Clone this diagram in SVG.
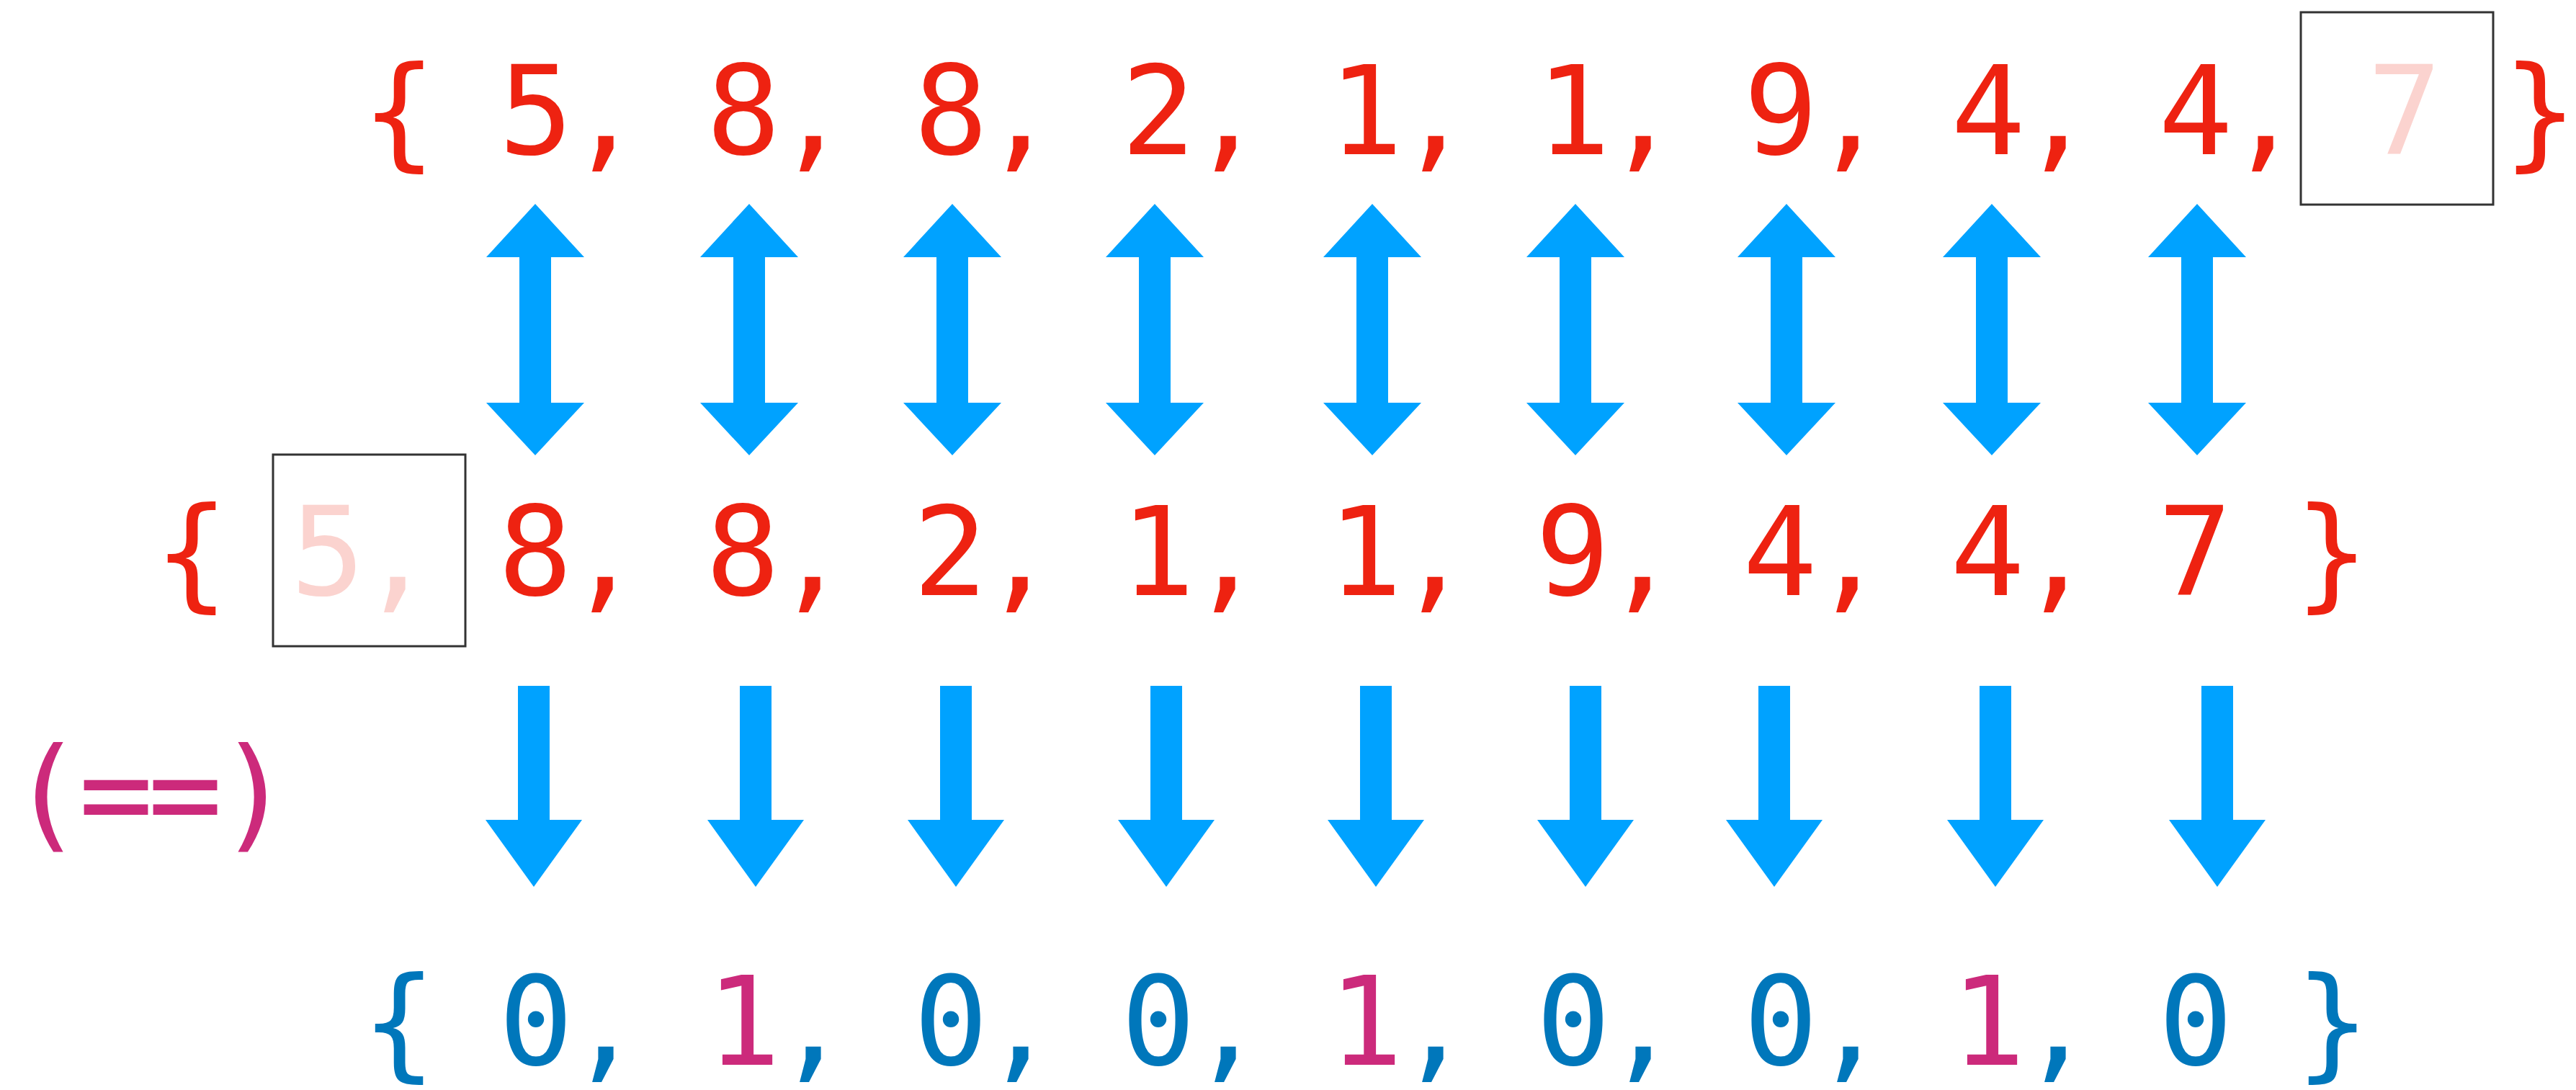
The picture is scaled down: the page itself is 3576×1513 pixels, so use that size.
<svg xmlns="http://www.w3.org/2000/svg" xmlns:xlink="http://www.w3.org/1999/xlink" width="3576" height="1513" viewBox="0 0 3576 1513">
<style>
text{font-family:"DejaVu Sans Mono","Liberation Mono",monospace;font-size:172px;text-anchor:middle}
.red{fill:#EE2211}
.pink{fill:#FBD3CF}
.blue{fill:#0077BB}
.mag{fill:#CC2A7B}
.box{fill:none;stroke:#333333;stroke-width:3}
.arr{fill:#00A2FF}
</style>
<defs>
<path id="dbl" d="M0,283 L68,357 L22,357 L22,559 L68,559 L0,632 L-68,559 L-22,559 L-22,357 L-68,357 Z"/>
<path id="dn" d="M-22,952 L22,952 L22,1138 L67,1138 L0,1231 L-67,1138 L-22,1138 Z"/>
</defs>
<rect width="3576" height="1513" fill="#ffffff"/>

<g id="row-top">
<text class="red" x="554" y="214">{</text>
<g id="top-0"><text class="red" x="744 840" y="214">5,</text></g>
<g id="top-1"><text class="red" x="1032 1128" y="214">8,</text></g>
<g id="top-2"><text class="red" x="1320 1416" y="214">8,</text></g>
<g id="top-3"><text class="red" x="1608 1704" y="214">2,</text></g>
<g id="top-4"><text class="red" x="1896 1992" y="214">1,</text></g>
<g id="top-5"><text class="red" x="2184 2280" y="214">1,</text></g>
<g id="top-6"><text class="red" x="2472 2568" y="214">9,</text></g>
<g id="top-7"><text class="red" x="2760 2856" y="214">4,</text></g>
<g id="top-8"><text class="red" x="3048 3144" y="214">4,</text></g>
<g id="top-9"><rect class="box" x="3194" y="17" width="267" height="267"/><text class="pink" x="3338" y="214">7</text></g>
<text class="red" x="3526" y="214">}</text>
</g>

<g id="row-mid">
<text class="red" x="266" y="826">{</text>
<g id="mid-0"><rect class="box" x="379" y="631" width="267" height="266"/><text class="pink" x="455 551" y="826">5,</text></g>
<g id="mid-1"><text class="red" x="743 839" y="826">8,</text></g>
<g id="mid-2"><text class="red" x="1031 1127" y="826">8,</text></g>
<g id="mid-3"><text class="red" x="1319 1415" y="826">2,</text></g>
<g id="mid-4"><text class="red" x="1607 1703" y="826">1,</text></g>
<g id="mid-5"><text class="red" x="1895 1991" y="826">1,</text></g>
<g id="mid-6"><text class="red" x="2183 2279" y="826">9,</text></g>
<g id="mid-7"><text class="red" x="2471 2567" y="826">4,</text></g>
<g id="mid-8"><text class="red" x="2759 2855" y="826">4,</text></g>
<g id="mid-9"><text class="red" x="3047" y="826">7</text></g>
<text class="red" x="3237" y="826">}</text>
</g>

<g id="op-eq">
<text class="mag" x="65 161 257 353" y="1160">(==)</text>
</g>

<g id="row-bot">
<text class="blue" x="554" y="1478">{</text>
<g id="bot-0"><text class="blue" x="744" y="1478">0</text><text class="blue" x="840" y="1478">,</text></g>
<g id="bot-1"><text class="mag" x="1032" y="1478">1</text><text class="blue" x="1128" y="1478">,</text></g>
<g id="bot-2"><text class="blue" x="1320" y="1478">0</text><text class="blue" x="1416" y="1478">,</text></g>
<g id="bot-3"><text class="blue" x="1608" y="1478">0</text><text class="blue" x="1704" y="1478">,</text></g>
<g id="bot-4"><text class="mag" x="1896" y="1478">1</text><text class="blue" x="1992" y="1478">,</text></g>
<g id="bot-5"><text class="blue" x="2184" y="1478">0</text><text class="blue" x="2280" y="1478">,</text></g>
<g id="bot-6"><text class="blue" x="2472" y="1478">0</text><text class="blue" x="2568" y="1478">,</text></g>
<g id="bot-7"><text class="mag" x="2760" y="1478">1</text><text class="blue" x="2856" y="1478">,</text></g>
<g id="bot-8"><text class="blue" x="3048" y="1478">0</text></g>
<text class="blue" x="3238" y="1478">}</text>
</g>

<g id="connectors" class="arr">
<use xlink:href="#dbl" x="743"/>
<use xlink:href="#dbl" x="1040"/>
<use xlink:href="#dbl" x="1322"/>
<use xlink:href="#dbl" x="1603"/>
<use xlink:href="#dbl" x="1905"/>
<use xlink:href="#dbl" x="2187"/>
<use xlink:href="#dbl" x="2480"/>
<use xlink:href="#dbl" x="2765"/>
<use xlink:href="#dbl" x="3050"/>
<use xlink:href="#dn" x="741"/>
<use xlink:href="#dn" x="1049"/>
<use xlink:href="#dn" x="1327"/>
<use xlink:href="#dn" x="1619"/>
<use xlink:href="#dn" x="1910"/>
<use xlink:href="#dn" x="2201"/>
<use xlink:href="#dn" x="2463"/>
<use xlink:href="#dn" x="2770"/>
<use xlink:href="#dn" x="3078"/>
</g>
</svg>
